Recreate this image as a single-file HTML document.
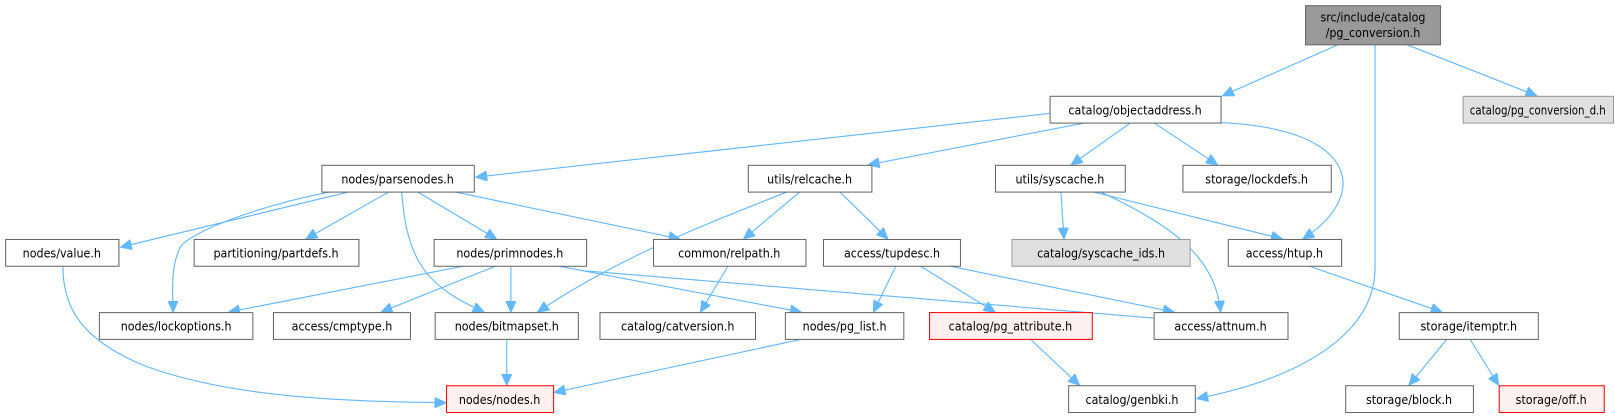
<!DOCTYPE html>
<html><head><meta charset="utf-8"><style>
html,body{margin:0;padding:0;background:#fff;width:1615px;height:417px;overflow:hidden}
text{font-family:"DejaVu Sans Condensed","Liberation Sans",sans-serif;font-size:12px;fill:#000;text-anchor:middle}
.b rect{fill:#fff;stroke:#666;stroke-width:1}
.e path{fill:none;stroke:#63b8ff;stroke-width:1.1}
</style></head><body>
<svg width="1615" height="417" xmlns="http://www.w3.org/2000/svg">
<defs><marker id="a" markerUnits="userSpaceOnUse" markerWidth="12" markerHeight="10" refX="11" refY="5" orient="auto"><path d="M0,0 L11,5 L0,10 z" fill="#63b8ff" stroke="#63b8ff"/></marker></defs>
<g transform="scale(1.03)">
<g class="e">
<path d="M1300,43 L1187,93" marker-end="url(#a)"/>
<path d="M1335,43 L1335,260 C1335,330 1250,370 1162,387" marker-end="url(#a)"/>
<path d="M1365,43 L1492,93" marker-end="url(#a)"/>
<path d="M1020,110 L462,172" marker-end="url(#a)"/>
<path d="M1055,119 L843,160" marker-end="url(#a)"/>
<path d="M1098,119 L1040,160" marker-end="url(#a)"/>
<path d="M1120,119 L1182,160" marker-end="url(#a)"/>
<path d="M1185,119 C1320,125 1330,190 1265,232" marker-end="url(#a)"/>
<path d="M340,186 L117,240" marker-end="url(#a)"/>
<path d="M322,186 C250,200 185,225 175,240 C165,260 168,285 168,303" marker-end="url(#a)"/>
<path d="M378,186 L297,232" marker-end="url(#a)"/>
<path d="M390,186 C395,260 420,280 470,303" marker-end="url(#a)"/>
<path d="M405,186 L482,232" marker-end="url(#a)"/>
<path d="M440,186 L660,232" marker-end="url(#a)"/>
<path d="M765,186 C680,220 600,250 522,303" marker-end="url(#a)"/>
<path d="M777,186 L722,232" marker-end="url(#a)"/>
<path d="M815,186 L862,232" marker-end="url(#a)"/>
<path d="M1030,186 L1033,232" marker-end="url(#a)"/>
<path d="M1068,186 C1140,220 1180,250 1185,303" marker-end="url(#a)"/>
<path d="M1060,186 L1245,232" marker-end="url(#a)"/>
<path d="M452,258 L222,303" marker-end="url(#a)"/>
<path d="M482,258 L370,303" marker-end="url(#a)"/>
<path d="M496,258 L496,303" marker-end="url(#a)"/>
<path d="M540,258 L778,303" marker-end="url(#a)"/>
<path d="M569,263 L1134,310" marker-end="url(#a)"/>
<path d="M707,258 L680,303" marker-end="url(#a)"/>
<path d="M870,258 L848,303" marker-end="url(#a)"/>
<path d="M893,258 L966,303" marker-end="url(#a)"/>
<path d="M920,258 L1140,303" marker-end="url(#a)"/>
<path d="M1270,258 L1400,303" marker-end="url(#a)"/>
<path d="M61,258 C61,300 80,330 140,355 C220,385 330,390 433,391" marker-end="url(#a)"/>
<path d="M492,329 L492,374" marker-end="url(#a)"/>
<path d="M780,329 L538,381" marker-end="url(#a)"/>
<path d="M1000,329 L1048,374" marker-end="url(#a)"/>
<path d="M1405,329 L1368,374" marker-end="url(#a)"/>
<path d="M1427,329 L1455,374" marker-end="url(#a)"/>
</g>
<g class="b">
<rect x="1267.5" y="5.5" width="131" height="38" style="fill:#999"/><text x="1333" y="21">src/include/catalog</text><text x="1333" y="36">/pg_conversion.h</text>
<rect x="1019.5" y="93.5" width="166" height="26"/><text x="1102" y="111">catalog/objectaddress.h</text>
<rect x="1420.5" y="93.5" width="146" height="26" style="fill:#e0e0e0;stroke:#999"/><text x="1493" y="111" textLength="132" lengthAdjust="spacingAndGlyphs">catalog/pg_conversion_d.h</text>
<rect x="312.5" y="160.5" width="148" height="26"/><text x="386" y="178">nodes/parsenodes.h</text>
<rect x="726.5" y="160.5" width="120" height="26"/><text x="786" y="178">utils/relcache.h</text>
<rect x="966.5" y="160.5" width="126" height="26"/><text x="1029" y="178">utils/syscache.h</text>
<rect x="1148.5" y="160.5" width="144" height="26"/><text x="1220" y="178">storage/lockdefs.h</text>
<rect x="5.5" y="232.5" width="110" height="26"/><text x="60" y="250">nodes/value.h</text>
<rect x="188.5" y="232.5" width="160" height="26"/><text x="268" y="250">partitioning/partdefs.h</text>
<rect x="421.5" y="232.5" width="148" height="26"/><text x="495" y="250">nodes/primnodes.h</text>
<rect x="634.5" y="232.5" width="148" height="26"/><text x="708" y="250">common/relpath.h</text>
<rect x="799.5" y="232.5" width="133" height="26"/><text x="866" y="250">access/tupdesc.h</text>
<rect x="982.5" y="232.5" width="173" height="26" style="fill:#e0e0e0;stroke:#999"/><text x="1069" y="250">catalog/syscache_ids.h</text>
<rect x="1192.5" y="232.5" width="110" height="26"/><text x="1247" y="250">access/htup.h</text>
<rect x="96.5" y="303.5" width="149" height="26"/><text x="171" y="321">nodes/lockoptions.h</text>
<rect x="265.5" y="303.5" width="133" height="26"/><text x="332" y="321">access/cmptype.h</text>
<rect x="422.5" y="303.5" width="139" height="26"/><text x="492" y="321">nodes/bitmapset.h</text>
<rect x="582.5" y="303.5" width="151" height="26"/><text x="658" y="321">catalog/catversion.h</text>
<rect x="762.5" y="303.5" width="115" height="26"/><text x="820" y="321">nodes/pg_list.h</text>
<rect x="902.5" y="303.5" width="158" height="26" style="fill:#fff0f0;stroke:#f00"/><text x="981" y="321">catalog/pg_attribute.h</text>
<rect x="1120.5" y="303.5" width="130" height="26"/><text x="1185" y="321">access/attnum.h</text>
<rect x="1358.5" y="303.5" width="135" height="26"/><text x="1426" y="321">storage/itemptr.h</text>
<rect x="433.5" y="374.5" width="104" height="26" style="fill:#fff0f0;stroke:#f00"/><text x="485" y="392">nodes/nodes.h</text>
<rect x="1037.5" y="374.5" width="123" height="26"/><text x="1099" y="392">catalog/genbki.h</text>
<rect x="1306.5" y="374.5" width="124" height="26"/><text x="1368" y="392">storage/block.h</text>
<rect x="1455.5" y="374.5" width="102" height="26" style="fill:#fff0f0;stroke:#f00"/><text x="1506" y="392">storage/off.h</text>
</g>
</g>
</svg>
</body></html>
